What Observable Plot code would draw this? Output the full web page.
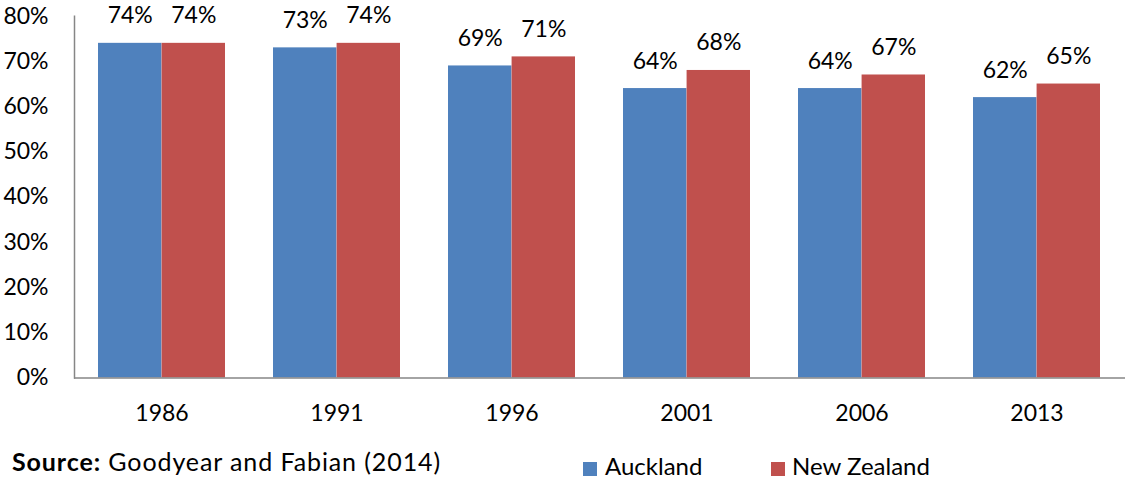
<!DOCTYPE html>
<html>
<head>
<meta charset="utf-8">
<script src="https://cdn.jsdelivr.net/npm/d3@7"></script>
<script src="https://cdn.jsdelivr.net/npm/@observablehq/plot@0.6"></script>
<style>
  body { margin: 0; background: #fff; font-family: Lato, "Open Sans", sans-serif; color: #000; }
  #chart { width: 1125px; }
  .foot { position: relative; width: 1125px; height: 39px; font-size: 24px; line-height: 24px; }
  .foot span.t { position: absolute; white-space: nowrap; }
  .foot span.sw { position: absolute; width: 14px; height: 14px; }
  #source { font-size: 25px; letter-spacing: 0.9px; }
</style>
</head>
<body>
<div id="chart"></div>
<div class="foot">
  <span class="t" id="source" style="left:12px;top:9px"><b>Source:</b> Goodyear and Fabian (2014)</span>
  <span class="sw" style="left:583px;top:22px;background:#4F81BD"></span>
  <span class="t" style="left:605px;top:14px">Auckland</span>
  <span class="sw" style="left:771px;top:22px;background:#C0504D"></span>
  <span class="t" style="left:792px;top:14px">New Zealand</span>
</div>
<script>
// Share of households (%) by census year
const years = ["1986", "1991", "1996", "2001", "2006", "2013"];
const auckland = [74, 73, 69, 64, 64, 62];
const newZealand = [74, 74, 71, 68, 67, 65];
const seriesColors = ["#4F81BD", "#C0504D"];
const yTicks = [0, 0.1, 0.2, 0.3, 0.4, 0.5, 0.6, 0.7, 0.8];

const rowsA = years.map((year, i) => ({year, value: auckland[i] / 100}));
const rowsN = years.map((year, i) => ({year, value: newZealand[i] / 100}));

const width = 1125, height = 440;
const marginLeft = 74, marginRight = 0, marginTop = 15.7, marginBottom = 62.5;
const paddingInner = 0.274, paddingOuter = paddingInner / 2;
const step = (width - marginLeft - marginRight) / years.length;
const half = step * (1 - paddingInner) / 2;
const pct = d3.format(".0%");
const axisColor = "#868686";

const chart = Plot.plot({
  width, height, marginLeft, marginRight, marginTop, marginBottom,
  style: {fontFamily: "Lato, 'Open Sans', sans-serif", fontSize: "23px", color: "#000", background: "#fff"},
  x: {domain: years, paddingInner, paddingOuter, label: null},
  y: {domain: [0, 0.8], label: null},
  marks: [
    Plot.barY(rowsA, {x: "year", y: "value", fill: seriesColors[0], insetRight: half}),
    Plot.barY(rowsN, {x: "year", y: "value", fill: seriesColors[1], insetLeft: half}),
    Plot.text(rowsA, {x: "year", y: "value", text: d => pct(d.value), dx: -half / 2, lineAnchor: "bottom", dy: -20, fill: "#000"}),
    Plot.text(rowsN, {x: "year", y: "value", text: d => pct(d.value), dx: half / 2, lineAnchor: "bottom", dy: -20, fill: "#000"}),
    Plot.axisY({ticks: yTicks, tickFormat: pct, tickSize: 0, tickPadding: 26, label: null}),
    Plot.axisX({tickSize: 0, tickPadding: 27, label: null}),
    Plot.ruleY([0], {stroke: axisColor, strokeWidth: 1.5}),
    Plot.frame({anchor: "left", stroke: axisColor, strokeWidth: 1.5})
  ]
});
document.getElementById("chart").append(chart);
</script>
</body>
</html>
